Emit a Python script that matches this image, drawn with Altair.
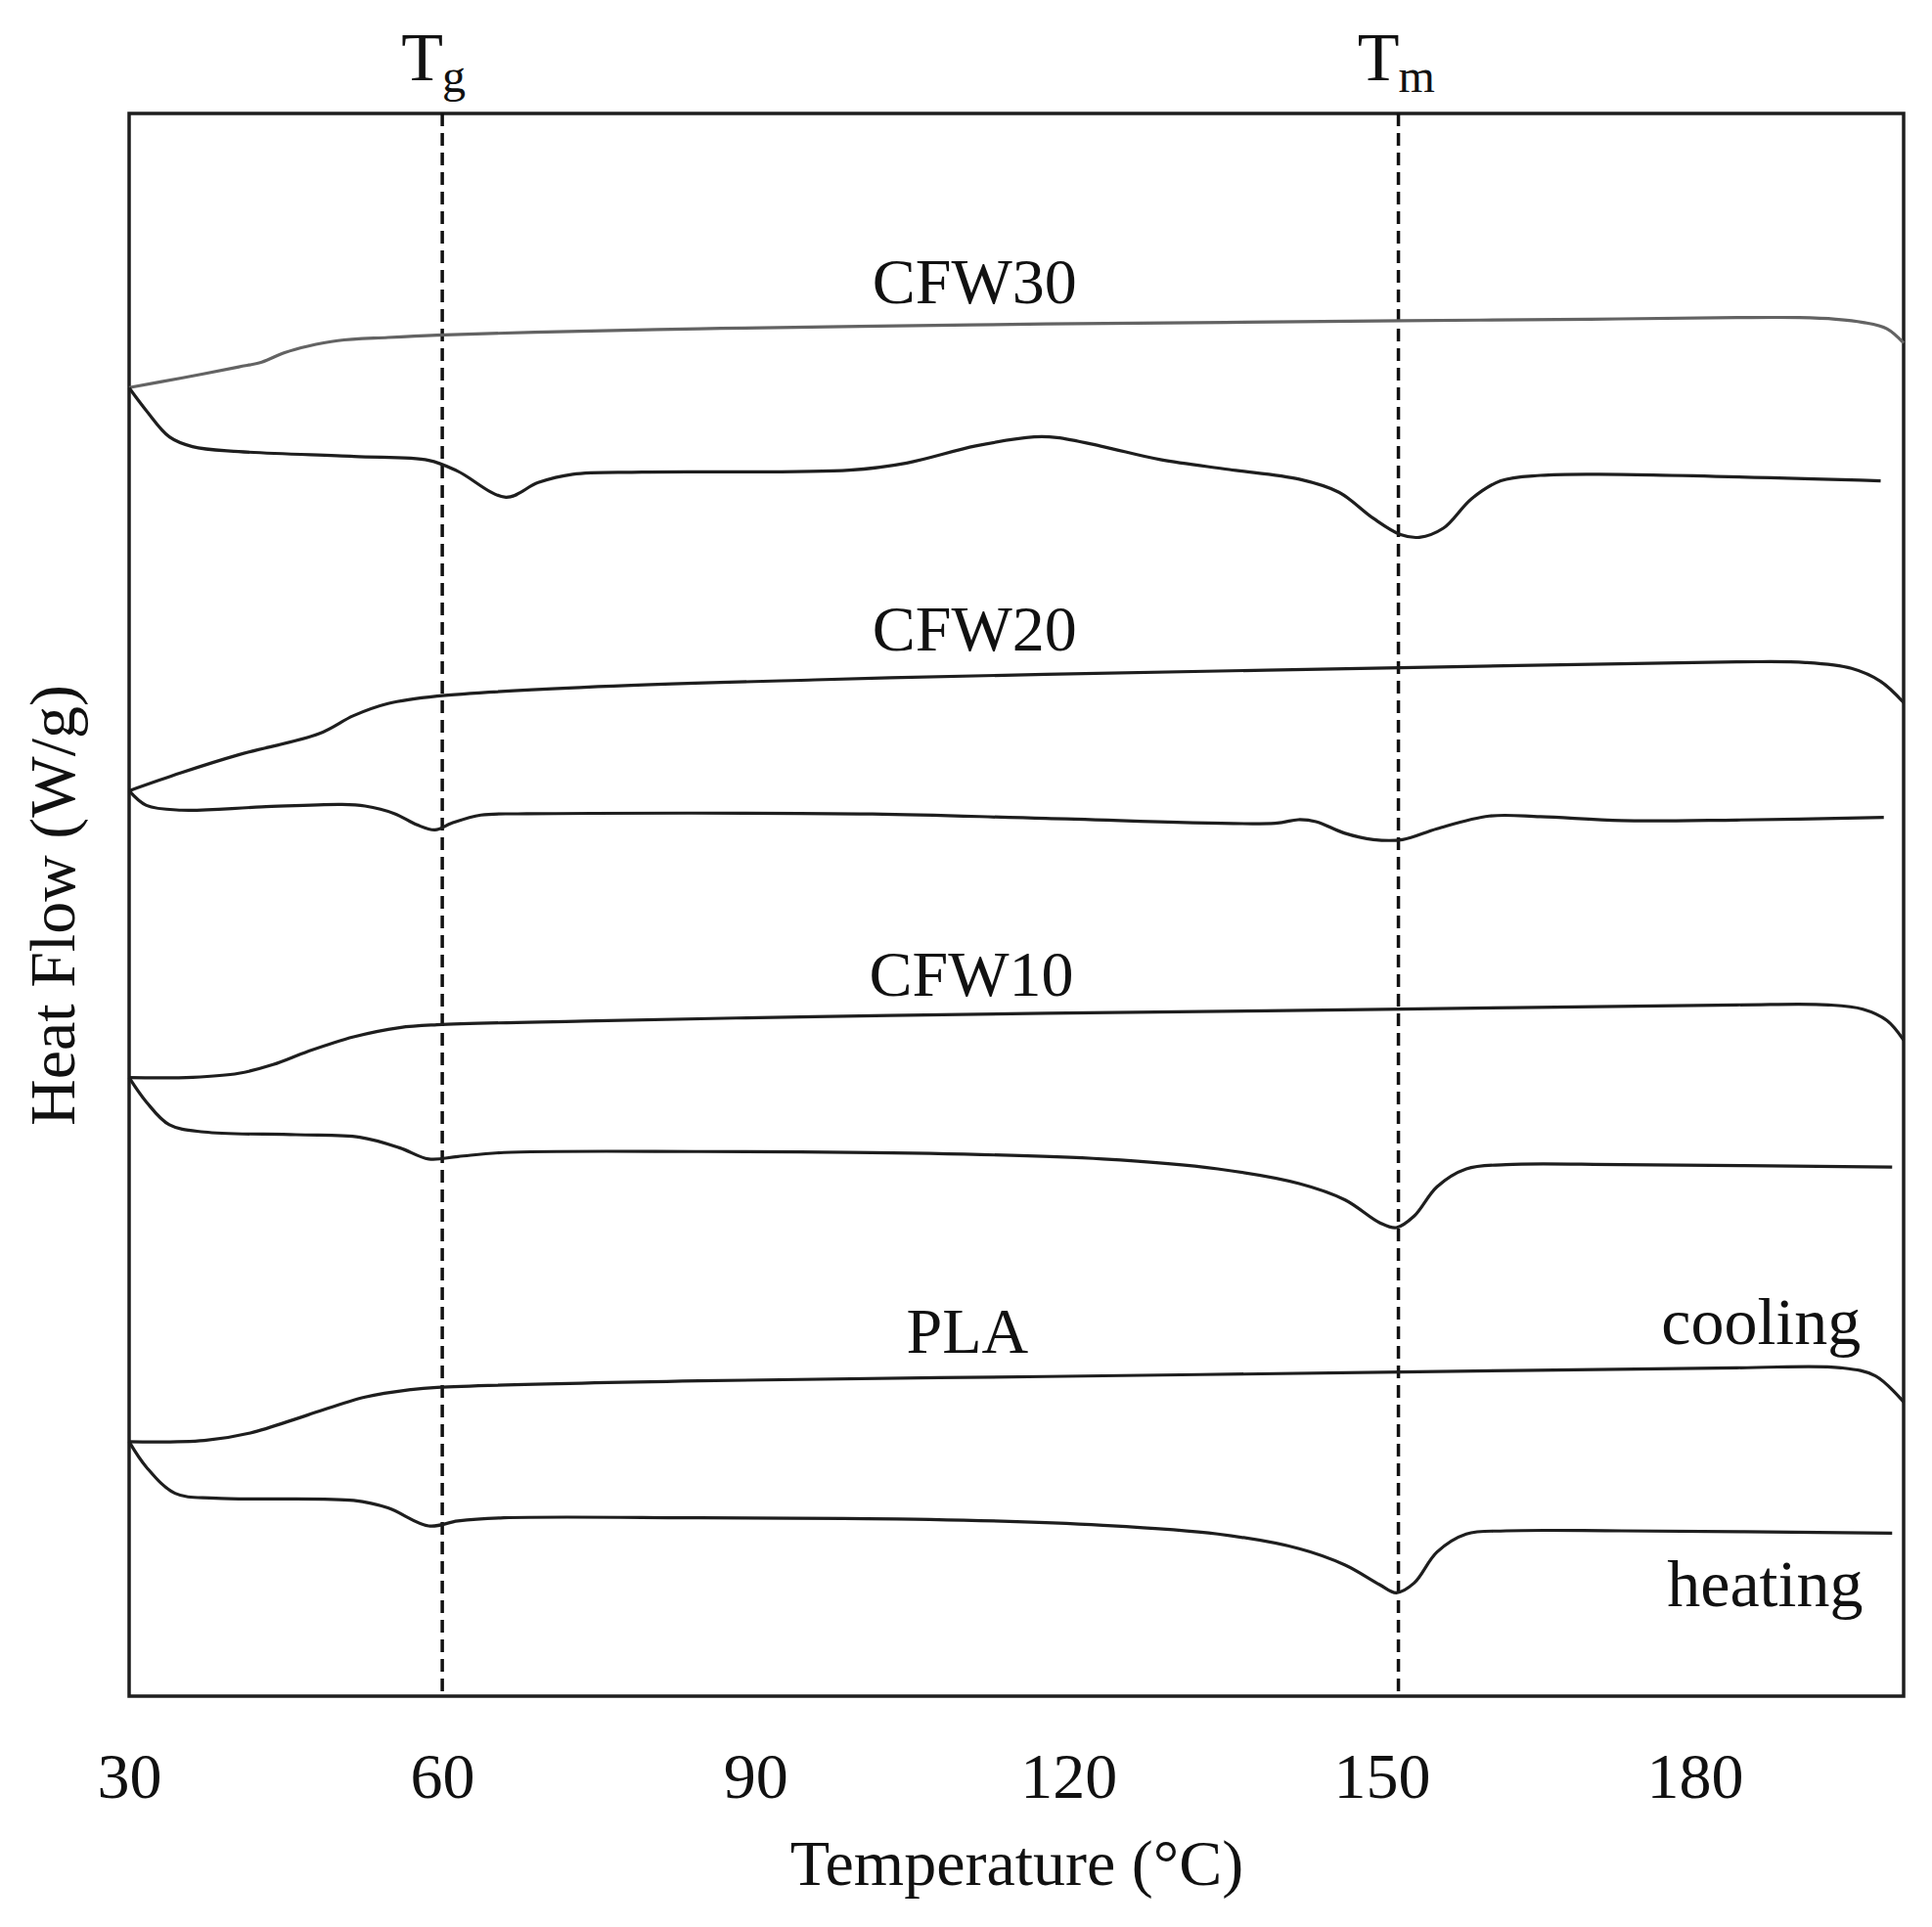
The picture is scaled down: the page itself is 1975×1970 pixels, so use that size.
import altair as alt
import pandas as pd

# ---------------- data ----------------
# Temperature (°C) and heat flow (arbitrary, stacked units)
cfw30_cool_T = [30, 35, 40.5, 42.7, 44.9, 47.1, 50, 54.8, 59.5, 70, 84.6, 100, 117.8, 135, 151.8, 170, 184, 190, 193.5, 196.1, 198.4, 200]
cfw30_cool_v = [82.8, 83.4, 84.1, 84.4, 85.0, 85.4, 85.75, 85.95, 86.1, 86.3, 86.5, 86.65, 86.8, 86.9, 87.0, 87.1, 87.2, 87.2, 87.1, 86.9, 86.5, 85.6]

cfw30_heat_T = [30, 31.66, 33.86, 36.07, 40.49, 51.53, 58.7, 61.46, 66.1, 69.19, 72.5, 79.13, 99.0, 104.5, 111.1, 116.7, 118.9, 123.3, 128.8, 135.4, 142.1, 145.9, 149.2, 151.8, 153.6, 155.9, 158.6, 161.4, 165.2, 170.8, 197.8]
cfw30_heat_v = [82.78, 81.34, 79.70, 79.09, 78.78, 78.47, 78.23, 77.55, 75.91, 76.83, 77.35, 77.49, 77.61, 78.06, 79.13, 79.70, 79.66, 79.09, 78.27, 77.65, 77.04, 76.22, 74.58, 73.56, 73.39, 73.96, 75.81, 76.94, 77.28, 77.35, 76.94]

cfw20_cool_T = [30, 34.97, 40.49, 48.2, 51.5, 54.8, 59.5, 73.6, 95.7, 117.8, 151.8, 184, 190.6, 195, 197.8, 200]
cfw20_cool_v = [57.46, 58.59, 59.72, 61.05, 62.18, 62.94, 63.41, 63.96, 64.43, 64.78, 65.19, 65.56, 65.52, 65.15, 64.33, 63.0]

cfw20_heat_T = [30, 31.66, 35, 42.7, 50.4, 52.6, 55.4, 57.6, 59.3, 60.9, 63.7, 68.1, 101.2, 117.8, 139.8, 142, 143.7, 146.4, 149.2, 152, 155.3, 160.3, 165.2, 173, 184, 198.1]
cfw20_heat_v = [57.46, 56.54, 56.24, 56.44, 56.6, 56.5, 56.03, 55.31, 55.0, 55.42, 55.93, 56.01, 56.0, 55.72, 55.42, 55.64, 55.52, 54.8, 54.39, 54.39, 55.07, 55.87, 55.83, 55.58, 55.62, 55.78]

cfw10_cool_T = [30, 36.1, 40.5, 43.8, 47.1, 51.5, 55.9, 59.5, 73.6, 95.7, 117.8, 151.8, 184, 192.8, 196.1, 198.4, 200]
cfw10_cool_v = [39.43, 39.45, 39.7, 40.25, 41.07, 41.99, 42.57, 42.75, 42.98, 43.26, 43.47, 43.73, 44.0, 44.0, 43.73, 43.02, 41.79]

cfw10_heat_T = [30, 31.66, 33.86, 37.2, 46, 52.1, 55.9, 58.7, 61.5, 65.9, 84.6, 106.7, 123.3, 134.3, 142.1, 146.5, 149.8, 151.4, 153.1, 155.3, 158.1, 161.9, 173, 198.9]
cfw10_heat_v = [39.43, 37.89, 36.46, 36.01, 35.84, 35.68, 35.02, 34.31, 34.47, 34.72, 34.78, 34.66, 34.31, 33.69, 32.77, 31.74, 30.31, 30.0, 30.72, 32.57, 33.69, 33.96, 33.96, 33.8]

pla_cool_T = [30, 37.2, 41.6, 47.1, 52.6, 57.0, 59.5, 84.6, 117.8, 151.8, 184, 194, 197.3, 200]
pla_cool_v = [16.54, 16.62, 17.09, 18.22, 19.35, 19.82, 19.96, 20.37, 20.64, 20.92, 21.19, 21.19, 20.68, 19.04]

pla_heat_T = [30, 31.66, 34.4, 38.3, 51.5, 54.8, 58.7, 61.5, 65.9, 84.6, 106.7, 123.3, 134.3, 142.1, 146.5, 149.8, 151.4, 153.1, 155.3, 158.1, 161.9, 173, 198.9]
pla_heat_v = [16.54, 14.94, 13.3, 12.99, 12.85, 12.38, 11.25, 11.56, 11.76, 11.76, 11.66, 11.29, 10.74, 9.82, 8.79, 7.56, 7.05, 7.66, 9.61, 10.74, 10.94, 10.94, 10.8]

series_names = ["CFW30 cooling", "CFW30 heating", "CFW20 cooling", "CFW20 heating",
                "CFW10 cooling", "CFW10 heating", "PLA cooling", "PLA heating"]
series_colors = ["#636363", "#1e1e1e", "#1e1e1e", "#1e1e1e",
                 "#1e1e1e", "#1e1e1e", "#1e1e1e", "#1e1e1e"]
series_data = [(cfw30_cool_T, cfw30_cool_v), (cfw30_heat_T, cfw30_heat_v),
               (cfw20_cool_T, cfw20_cool_v), (cfw20_heat_T, cfw20_heat_v),
               (cfw10_cool_T, cfw10_cool_v), (cfw10_heat_T, cfw10_heat_v),
               (pla_cool_T, pla_cool_v), (pla_heat_T, pla_heat_v)]

# sample labels
label_text = ["CFW30", "CFW20", "CFW10", "PLA"]
label_T = [111.0, 111.0, 110.7, 110.3]
label_v = [88.1, 66.3, 44.6, 22.1]

# cooling / heating labels
mode_text = ["cooling", "heating"]
mode_T = [195.9, 196.1]
mode_v = [22.7, 6.2]

# transition temperatures
trans_T = [60.0, 151.6]
trans_main = ["T", "T"]
trans_sub = ["g", "m"]

x_ticks = [30, 60, 90, 120, 150, 180]

# ---------------- build tables ----------------
rows = []
for name, (ts, vs) in zip(series_names, series_data):
    for t, v in zip(ts, vs):
        rows.append({"T": t, "v": v, "series": name})
curves = pd.DataFrame(rows)
labels = pd.DataFrame({"T": label_T, "v": label_v, "text": label_text})
modes = pd.DataFrame({"T": mode_T, "v": mode_v, "text": mode_text})
trans = pd.DataFrame({"T": trans_T, "main": trans_main, "sub": trans_sub})

FONT = "Liberation Serif"
FS = 66

x_scale = alt.Scale(domain=[30, 200], nice=False, zero=False)
y_scale = alt.Scale(domain=[0.55, 100.03], nice=False, zero=False)

x_enc = alt.X("T:Q", scale=x_scale,
              axis=alt.Axis(values=x_ticks, ticks=False, tickSize=0, domain=False, grid=False,
                            labelFont=FONT, labelFontSize=FS, labelColor="#111",
                            labelPadding=51, labelFlush=False, labelOverlap=False,
                            title="Temperature (°C)", titleFont=FONT, titleFontSize=FS,
                            titleFontWeight="normal", titleColor="#111", titlePadding=24))
y_enc = alt.Y("v:Q", scale=y_scale,
              axis=alt.Axis(labels=False, ticks=False, domain=False, grid=False,
                            title="Heat Flow (W/g)", titleFont=FONT, titleFontSize=FS,
                            titleFontWeight="normal", titleColor="#111", titlePadding=43))

lines = alt.Chart(curves).mark_line(interpolate="catmull-rom", strokeWidth=3.2).encode(
    x=x_enc, y=y_enc,
    color=alt.Color("series:N", scale=alt.Scale(domain=series_names, range=series_colors), legend=None),
)

rules = alt.Chart(trans).mark_rule(color="#111", strokeWidth=3.5, strokeDash=[13, 7]).encode(
    x=alt.X("T:Q", scale=x_scale)
)

trans_main_txt = alt.Chart(trans).mark_text(font=FONT, fontSize=70, align="right",
                                            baseline="alphabetic", color="#111", dx=1).encode(
    x=alt.X("T:Q", scale=x_scale), y=alt.value(-34), text="main:N"
)
trans_sub_txt = alt.Chart(trans).mark_text(font=FONT, fontSize=48, align="left",
                                           baseline="alphabetic", color="#111", dx=0).encode(
    x=alt.X("T:Q", scale=x_scale), y=alt.value(-22), text="sub:N"
)

label_txt = alt.Chart(labels).mark_text(font=FONT, fontSize=FS, align="center",
                                        baseline="alphabetic", color="#111").encode(
    x=alt.X("T:Q", scale=x_scale), y=alt.Y("v:Q", scale=y_scale), text="text:N"
)
mode_txt = alt.Chart(modes).mark_text(font=FONT, fontSize=68, align="right",
                                      baseline="alphabetic", color="#111").encode(
    x=alt.X("T:Q", scale=x_scale), y=alt.Y("v:Q", scale=y_scale), text="text:N"
)

chart = alt.layer(rules, lines, label_txt, mode_txt, trans_main_txt, trans_sub_txt).properties(
    width=1814, height=1618,
    autosize=alt.AutoSizeParams(type="none"),
    padding={"left": 124, "top": 108, "right": 20, "bottom": 220},
    background="white",
).configure_view(stroke="#1e1e1e", strokeWidth=3.5)

chart.save("out.html", embed_options={"renderer": "svg", "actions": False})
